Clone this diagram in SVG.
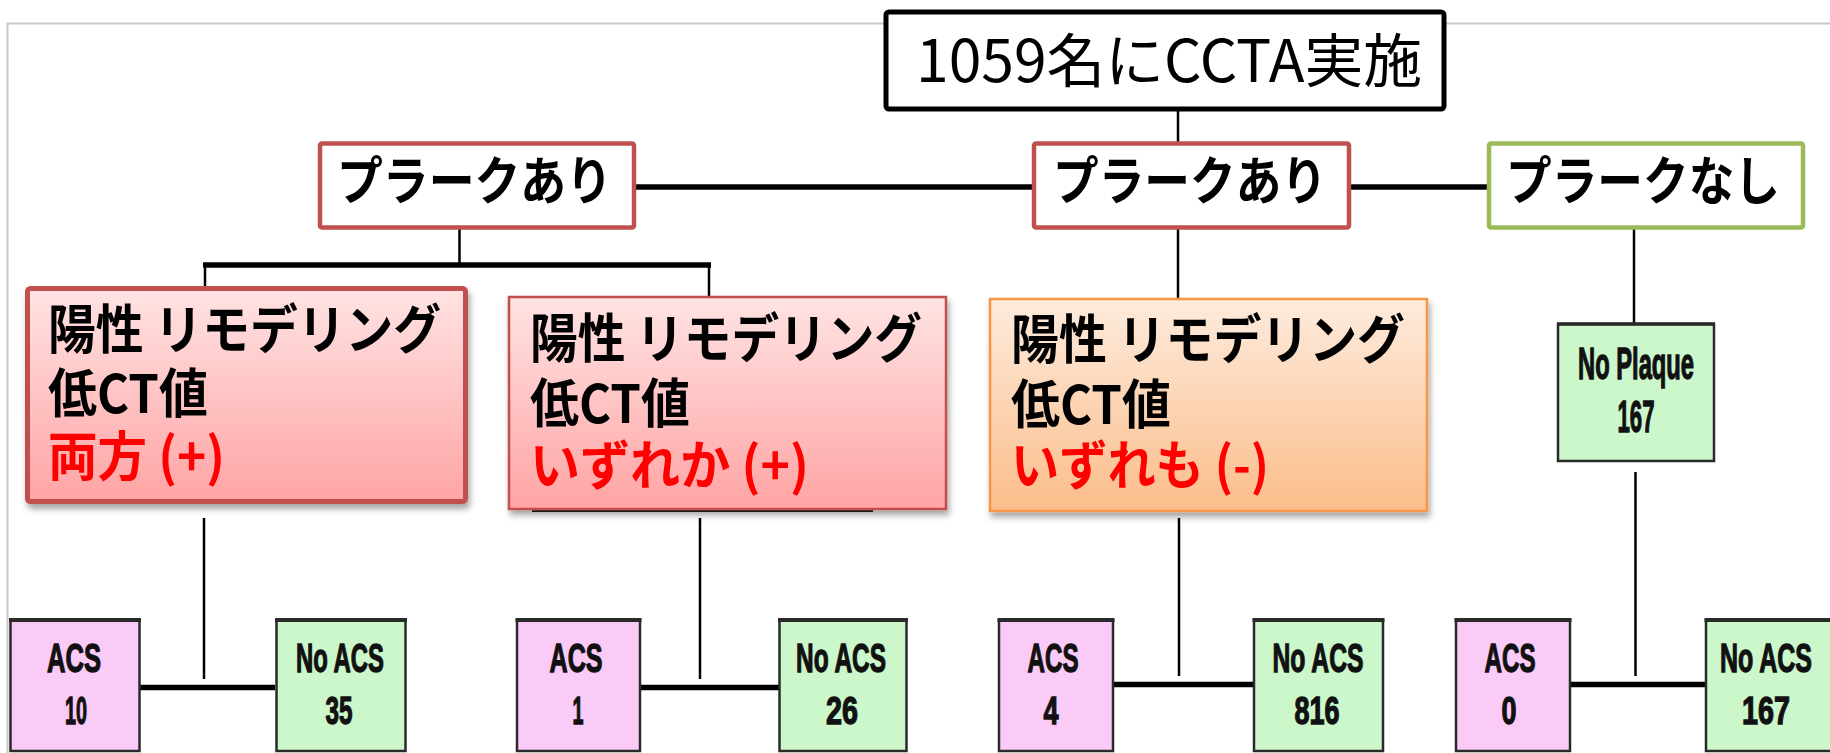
<svg xmlns="http://www.w3.org/2000/svg" width="1830" height="753" viewBox="0 0 1830 753">
  <defs>
    <linearGradient id="gPink" x1="0" y1="0" x2="0" y2="1">
      <stop offset="0" stop-color="#FFE3E3"/>
      <stop offset="1" stop-color="#FFA4A4"/>
    </linearGradient>
    <linearGradient id="gOrange" x1="0" y1="0" x2="0" y2="1">
      <stop offset="0" stop-color="#FDEBDD"/>
      <stop offset="1" stop-color="#FBBD8A"/>
    </linearGradient>
    <filter id="shadow" x="-5%" y="-5%" width="115%" height="120%">
      <feDropShadow dx="2" dy="5" stdDeviation="3" flood-color="#000" flood-opacity="0.35"/>
    </filter>
    <style>
      .jp { font-family: "Noto Sans CJK JP", "Noto Sans", sans-serif; }
      .b { font-weight: bold; }
      .thin { stroke: #000; stroke-width: 2.5; fill: none; }
      .thick { stroke: #000; stroke-width: 5.5; fill: none; }
      .lbl { font-family: "Liberation Sans", Arial, sans-serif; font-weight: bold; fill: #111; stroke: #111; stroke-width: 1.3; text-anchor: middle; }
      .acs { fill: #FBCBF8; stroke: #2a2a2a; stroke-width: 2.5; }
      .noacs { fill: #CBF7CB; stroke: #2a2a2a; stroke-width: 2.5; }
      .red { fill: #FF0000; }
    </style>
  </defs>

  <rect width="1830" height="753" fill="#FFFFFF"/>
  <!-- faint frame -->
  <path d="M7.5 753 V23.5 H1830" fill="none" stroke="#C8C8C8" stroke-width="2"/>

  <g id="connectors">
    <line class="thin" x1="1178" y1="109" x2="1178" y2="142"/>
    <line class="thick" x1="636" y1="187" x2="1032" y2="187"/>
    <line class="thick" x1="1351" y1="187" x2="1487" y2="187"/>
    <line class="thin" x1="459.5" y1="229" x2="459.5" y2="265"/>
    <line class="thick" x1="203" y1="265" x2="711" y2="265"/>
    <line class="thin" x1="205" y1="265" x2="205" y2="286"/>
    <line class="thin" x1="709" y1="265" x2="709" y2="296"/>
    <line class="thin" x1="1178" y1="229" x2="1178" y2="298"/>
    <line class="thin" x1="1634" y1="229" x2="1634" y2="323"/>
    <line class="thin" x1="1635.5" y1="472" x2="1635.5" y2="676"/>
    <line class="thin" x1="204" y1="518" x2="204" y2="679"/>
    <line class="thin" x1="700" y1="518" x2="700" y2="679"/>
    <line class="thin" x1="1179" y1="518" x2="1179" y2="676"/>
    <line class="thick" x1="139" y1="687.5" x2="275" y2="687.5"/>
    <line class="thick" x1="640" y1="687.5" x2="779" y2="687.5"/>
    <line class="thick" x1="1113" y1="684.5" x2="1253" y2="684.5"/>
    <line class="thick" x1="1570" y1="684.5" x2="1705" y2="684.5"/>
    <line x1="532" y1="511" x2="873" y2="511" stroke="#222" stroke-width="2"/>
  </g>

  <g id="n-root">
    <rect x="886" y="12" width="558" height="97" rx="3" fill="#FFFFFF" stroke="#000" stroke-width="5"/>
    <text class="jp" x="916" y="82" font-size="58" textLength="506" lengthAdjust="spacingAndGlyphs">1059名にCCTA実施</text>
  </g>

  <g id="n-plaqueA">
    <rect x="320" y="143.5" width="314" height="84" rx="2" fill="#FFFFFF" stroke="#C0504D" stroke-width="4.5"/>
    <text class="jp b" x="337" y="200" font-size="52" textLength="275" lengthAdjust="spacingAndGlyphs">プラークあり</text>
  </g>

  <g id="n-plaqueB">
    <rect x="1034" y="143.5" width="315" height="84" rx="2" fill="#FFFFFF" stroke="#C0504D" stroke-width="4.5"/>
    <text class="jp b" x="1053" y="200" font-size="52" textLength="274" lengthAdjust="spacingAndGlyphs">プラークあり</text>
  </g>

  <g id="n-noplaqueC">
    <rect x="1489" y="143.5" width="314" height="84" rx="2" fill="#FFFFFF" stroke="#9BBB59" stroke-width="4.5"/>
    <text class="jp b" x="1506" y="200" font-size="52" textLength="274" lengthAdjust="spacingAndGlyphs">プラークなし</text>
  </g>

  <g id="n-both">
    <rect x="27.5" y="288.5" width="438" height="213" rx="3" fill="url(#gPink)" stroke="#C0504D" stroke-width="5" filter="url(#shadow)"/>
    <text class="jp b" x="48" y="349" font-size="53" textLength="393" lengthAdjust="spacingAndGlyphs">陽性 リモデリング</text>
    <text class="jp b" x="48" y="413" font-size="53" textLength="160" lengthAdjust="spacingAndGlyphs">低CT値</text>
    <text class="jp b red" x="48" y="476" font-size="53" textLength="177" lengthAdjust="spacingAndGlyphs">両方 (+)</text>
  </g>

  <g id="n-either">
    <rect x="509" y="297" width="437" height="212" fill="url(#gPink)" stroke="#C0504D" stroke-width="2.5" filter="url(#shadow)"/>
    <text class="jp b" x="530" y="358" font-size="53" textLength="392" lengthAdjust="spacingAndGlyphs">陽性 リモデリング</text>
    <text class="jp b" x="530" y="423" font-size="53" textLength="160" lengthAdjust="spacingAndGlyphs">低CT値</text>
    <text class="jp b red" x="530" y="485" font-size="53" textLength="279" lengthAdjust="spacingAndGlyphs">いずれか (+)</text>
  </g>

  <g id="n-neither">
    <rect x="990" y="299" width="437" height="212" fill="url(#gOrange)" stroke="#F79646" stroke-width="2.5" filter="url(#shadow)"/>
    <text class="jp b" x="1011" y="359" font-size="53" textLength="394" lengthAdjust="spacingAndGlyphs">陽性 リモデリング</text>
    <text class="jp b" x="1011" y="424" font-size="53" textLength="160" lengthAdjust="spacingAndGlyphs">低CT値</text>
    <text class="jp b red" x="1011" y="485" font-size="53" textLength="258" lengthAdjust="spacingAndGlyphs">いずれも (-)</text>
  </g>

  <g id="n-noplaque">
    <rect x="1558" y="324" width="156" height="137" class="noacs"/>
    <line x1="1557" y1="324" x2="1715" y2="324" stroke="#2a2a2a" stroke-width="3.5"/>
    <text class="lbl" x="1636" y="379" font-size="44" textLength="116" lengthAdjust="spacingAndGlyphs">No Plaque</text>
    <text class="lbl" x="1636" y="432" font-size="45" textLength="37" lengthAdjust="spacingAndGlyphs">167</text>
  </g>

  <g id="n-acs10">
    <rect x="10.5" y="620" width="129" height="131" class="acs"/>
    <line x1="9" y1="620" x2="141" y2="620" stroke="#2a2a2a" stroke-width="4"/>
    <text class="lbl" x="74" y="672" font-size="41" textLength="54" lengthAdjust="spacingAndGlyphs">ACS</text>
    <text class="lbl" x="76" y="724" font-size="39" textLength="22" lengthAdjust="spacingAndGlyphs">10</text>
  </g>
  <g id="n-noacs35">
    <rect x="276.5" y="620" width="129" height="131" class="noacs"/>
    <line x1="275" y1="620" x2="407" y2="620" stroke="#2a2a2a" stroke-width="4"/>
    <text class="lbl" x="340" y="672" font-size="41" textLength="88" lengthAdjust="spacingAndGlyphs">No ACS</text>
    <text class="lbl" x="339" y="724" font-size="39" textLength="27" lengthAdjust="spacingAndGlyphs">35</text>
  </g>
  <g id="n-acs1">
    <rect x="517" y="620" width="123" height="131" class="acs"/>
    <line x1="515.5" y1="620" x2="641.5" y2="620" stroke="#2a2a2a" stroke-width="4"/>
    <text class="lbl" x="576" y="672" font-size="41" textLength="53" lengthAdjust="spacingAndGlyphs">ACS</text>
    <text class="lbl" x="578" y="724" font-size="39" textLength="11" lengthAdjust="spacingAndGlyphs">1</text>
  </g>
  <g id="n-noacs26">
    <rect x="779.5" y="620" width="127" height="131" class="noacs"/>
    <line x1="778" y1="620" x2="908" y2="620" stroke="#2a2a2a" stroke-width="4"/>
    <text class="lbl" x="841" y="672" font-size="41" textLength="90" lengthAdjust="spacingAndGlyphs">No ACS</text>
    <text class="lbl" x="842" y="724" font-size="39" textLength="32" lengthAdjust="spacingAndGlyphs">26</text>
  </g>
  <g id="n-acs4">
    <rect x="999" y="620" width="114" height="131" class="acs"/>
    <line x1="997.5" y1="620" x2="1114.5" y2="620" stroke="#2a2a2a" stroke-width="4"/>
    <text class="lbl" x="1053" y="672" font-size="41" textLength="51" lengthAdjust="spacingAndGlyphs">ACS</text>
    <text class="lbl" x="1051" y="724" font-size="39" textLength="15" lengthAdjust="spacingAndGlyphs">4</text>
  </g>
  <g id="n-noacs816">
    <rect x="1254" y="620" width="129" height="131" class="noacs"/>
    <line x1="1252.5" y1="620" x2="1384.5" y2="620" stroke="#2a2a2a" stroke-width="4"/>
    <text class="lbl" x="1318" y="672" font-size="41" textLength="91" lengthAdjust="spacingAndGlyphs">No ACS</text>
    <text class="lbl" x="1317" y="724" font-size="39" textLength="45" lengthAdjust="spacingAndGlyphs">816</text>
  </g>
  <g id="n-acs0">
    <rect x="1456" y="620" width="114" height="131" class="acs"/>
    <line x1="1454.5" y1="620" x2="1571.5" y2="620" stroke="#2a2a2a" stroke-width="4"/>
    <text class="lbl" x="1510" y="672" font-size="41" textLength="51" lengthAdjust="spacingAndGlyphs">ACS</text>
    <text class="lbl" x="1509" y="724" font-size="39" textLength="15" lengthAdjust="spacingAndGlyphs">0</text>
  </g>
  <g id="n-noacs167">
    <rect x="1706" y="620" width="130" height="131" class="noacs"/>
    <line x1="1704.5" y1="620" x2="1830" y2="620" stroke="#2a2a2a" stroke-width="4"/>
    <text class="lbl" x="1766" y="672" font-size="41" textLength="92" lengthAdjust="spacingAndGlyphs">No ACS</text>
    <text class="lbl" x="1766" y="724" font-size="39" textLength="48" lengthAdjust="spacingAndGlyphs">167</text>
  </g>
</svg>
